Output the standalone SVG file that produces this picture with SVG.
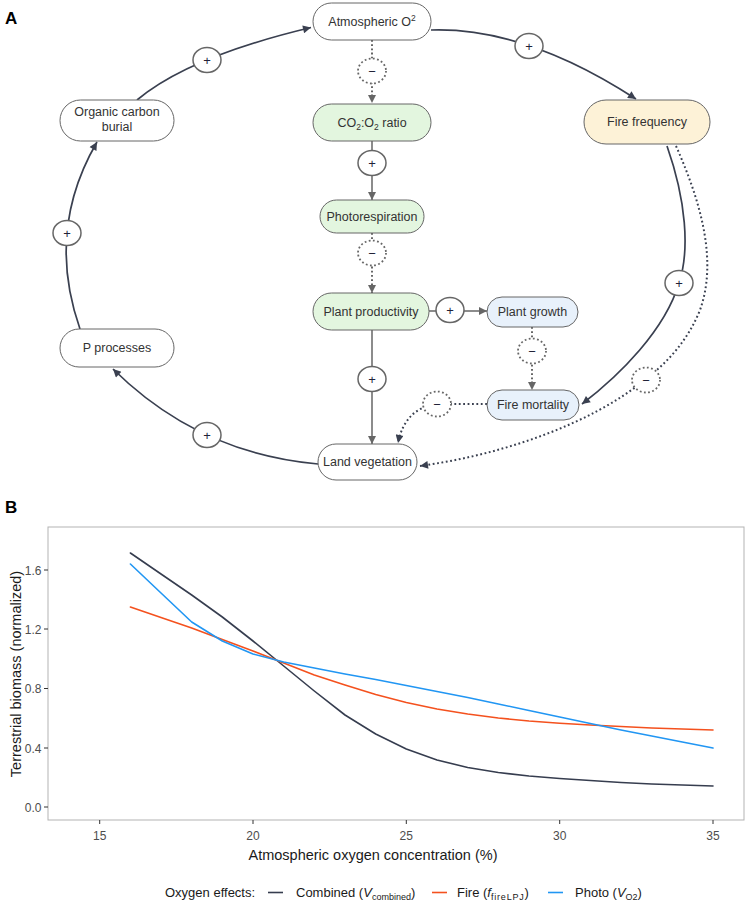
<svg xmlns="http://www.w3.org/2000/svg" width="750" height="909" viewBox="0 0 750 909">
<style>
.bg{fill:#ffffff}
.node{stroke:#666;stroke-width:1}
.white{fill:#ffffff}
.green{fill:#e3f6df}
.blue{fill:#e8f1fb}
.yellow{fill:#fdf2d7}
.lbl{font-family:"Liberation Sans",Arial,sans-serif;font-size:12.5px;fill:#333;text-anchor:middle}
.badge{fill:#ffffff;stroke:#666;stroke-width:1.5}
.badged{fill:#ffffff;stroke:#666;stroke-width:1.8;stroke-dasharray:1.8 2.4}
.sign{font-family:"Liberation Sans",Arial,sans-serif;font-size:13px;fill:#222238;text-anchor:middle}
.arc{fill:none;stroke:#3a4050;stroke-width:1.7}
.arcd{fill:none;stroke:#3a4050;stroke-width:2;stroke-dasharray:1.8 2.6}
.cen{fill:none;stroke:#666;stroke-width:1.5}
.cend{fill:none;stroke:#666;stroke-width:2;stroke-dasharray:1.8 2.4}
.panel{font-family:"Liberation Sans",Arial,sans-serif;font-size:17px;font-weight:bold;fill:#000}
.tick{stroke:#333;stroke-width:1}
.tl{font-family:"Liberation Sans",Arial,sans-serif;font-size:12px;fill:#4d4d4d}
.at{font-family:"Liberation Sans",Arial,sans-serif;font-size:14.5px;fill:#1a1a1a}
.leg{font-family:"Liberation Sans",Arial,sans-serif;font-size:13px;fill:#1a1a1a}
.curve{fill:none;stroke-width:1.6;stroke-linejoin:round;stroke-linecap:round}
</style>
<defs>
<marker id="ahd" viewBox="0 0 10 10" refX="10" refY="5" markerWidth="11" markerHeight="8" markerUnits="userSpaceOnUse" orient="auto"><path d="M0,0 L10,5 L0,10 z" fill="#3a4050"/></marker>
<marker id="ahg" viewBox="0 0 10 10" refX="10" refY="5" markerWidth="11" markerHeight="8" markerUnits="userSpaceOnUse" orient="auto"><path d="M0,0 L10,5 L0,10 z" fill="#666"/></marker>
</defs>
<rect class="bg" x="0" y="0" width="750" height="909"/>
<text class="panel" x="5" y="24">A</text>
<text class="panel" x="5" y="513">B</text>

<g id="connectors">
<path class="arc" d="M137,100 Q189,56.5 311,27.5" marker-end="url(#ahd)"/>
<path class="arc" d="M431,30 Q525.5,27 636,99" marker-end="url(#ahd)"/>
<path class="arc" d="M667,146 C686,200 690,250 679,283 C665,330 620,375 582,404" marker-end="url(#ahd)"/>
<path class="arcd" d="M676,146 C700,200 718,260 700,310 C688,340 668,362 646,379 C590,425 500,455 420,466" marker-end="url(#ahd)"/>
<path class="arc" d="M318,464 Q198.5,453.5 113,369" marker-end="url(#ahd)"/>
<path class="arc" d="M80,329 Q45.5,230.5 97,142" marker-end="url(#ahd)"/>
<path class="cend" d="M372,40 V103" marker-end="url(#ahg)"/>
<path class="cen" d="M372,141 V200" marker-end="url(#ahg)"/>
<path class="cend" d="M372,233 V293" marker-end="url(#ahg)"/>
<path class="cen" d="M372,330 V444" marker-end="url(#ahg)"/>
<path class="cen" d="M429,311 H487" marker-end="url(#ahg)"/>
<path class="cend" d="M532,327 V390" marker-end="url(#ahg)"/>
<path class="arcd" d="M487,404 L437,404 Q405,408 398,443" marker-end="url(#ahd)"/>
</g>

<g id="badges">
<g id="b1"><ellipse class="badge" cx="207" cy="60" rx="14" ry="12.5"/><text class="sign" x="207" y="64.5">+</text></g>
<g id="b2"><ellipse class="badge" cx="529" cy="46" rx="14" ry="12.5"/><text class="sign" x="529" y="50.5">+</text></g>
<g id="b3"><ellipse class="badged" cx="372" cy="71" rx="14" ry="12.5"/><text class="sign" x="372" y="75.5">−</text></g>
<g id="b4"><ellipse class="badge" cx="372" cy="163" rx="14" ry="12.5"/><text class="sign" x="372" y="167.5">+</text></g>
<g id="b5"><ellipse class="badged" cx="372" cy="253" rx="14" ry="12.5"/><text class="sign" x="372" y="257.5">−</text></g>
<g id="b6"><ellipse class="badge" cx="450" cy="310" rx="14" ry="12.5"/><text class="sign" x="450" y="314.5">+</text></g>
<g id="b7"><ellipse class="badge" cx="372" cy="379" rx="14" ry="12.5"/><text class="sign" x="372" y="383.5">+</text></g>
<g id="b8"><ellipse class="badged" cx="532" cy="351" rx="14" ry="12.5"/><text class="sign" x="532" y="355.5">−</text></g>
<g id="b9"><ellipse class="badged" cx="437" cy="404" rx="14" ry="12.5"/><text class="sign" x="437" y="408.5">−</text></g>
<g id="b10"><ellipse class="badge" cx="679" cy="283" rx="14" ry="12.5"/><text class="sign" x="679" y="287.5">+</text></g>
<g id="b11"><ellipse class="badged" cx="646" cy="380" rx="14" ry="12.5"/><text class="sign" x="646" y="384.5">−</text></g>
<g id="b12"><ellipse class="badge" cx="207" cy="435" rx="14" ry="12.5"/><text class="sign" x="207" y="439.5">+</text></g>
<g id="b13"><ellipse class="badge" cx="67" cy="233" rx="14" ry="12.5"/><text class="sign" x="67" y="237.5">+</text></g>
</g>

<g id="n-atmo2"><rect class="node white" x="313" y="3" width="118" height="37" rx="18.5"/><text class="lbl" x="372" y="26">Atmospheric O<tspan dy="-5" font-size="8.5">2</tspan></text></g>
<g id="n-co2"><rect class="node green" x="313" y="104" width="118" height="37" rx="18.5"/><text class="lbl" x="372" y="126.5">CO<tspan dy="3" font-size="8.5">2</tspan><tspan dy="-3">:O</tspan><tspan dy="3" font-size="8.5">2</tspan><tspan dy="-3"> ratio</tspan></text></g>
<g id="n-photoresp"><rect class="node green" x="320" y="200" width="104" height="33" rx="16.5"/><text class="lbl" x="372" y="220.5">Photorespiration</text></g>
<g id="n-prod"><rect class="node green" x="313" y="293" width="116" height="37" rx="18.5"/><text class="lbl" x="371" y="315.5">Plant productivity</text></g>
<g id="n-landveg"><rect class="node white" x="318" y="444" width="99" height="36" rx="18"/><text class="lbl" x="367.5" y="466">Land vegetation</text></g>
<g id="n-growth"><rect class="node blue" x="487" y="297" width="91" height="30" rx="15"/><text class="lbl" x="532.5" y="316">Plant growth</text></g>
<g id="n-mortality"><rect class="node blue" x="487" y="390" width="92" height="30" rx="15"/><text class="lbl" x="533" y="409">Fire mortality</text></g>
<g id="n-firefreq"><rect class="node yellow" x="584" y="100" width="126" height="44" rx="22"/><text class="lbl" x="647" y="126">Fire frequency</text></g>
<g id="n-ocb"><rect class="node white" x="60" y="100" width="114" height="41" rx="20.5"/><text class="lbl" x="117" y="116">Organic carbon</text><text class="lbl" x="117" y="131">burial</text></g>
<g id="n-p"><rect class="node white" x="60" y="329" width="114" height="38" rx="19"/><text class="lbl" x="117" y="352">P processes</text></g>

<g id="chart">
<rect x="48" y="527" width="696" height="293" fill="#ffffff" stroke="#b3b3b3" stroke-width="1"/>
<g class="tick">
<line x1="44" y1="570" x2="48" y2="570"/>
<line x1="44" y1="629" x2="48" y2="629"/>
<line x1="44" y1="688.5" x2="48" y2="688.5"/>
<line x1="44" y1="748" x2="48" y2="748"/>
<line x1="44" y1="807" x2="48" y2="807"/>
<line x1="99.7" y1="820" x2="99.7" y2="824"/>
<line x1="253" y1="820" x2="253" y2="824"/>
<line x1="406.3" y1="820" x2="406.3" y2="824"/>
<line x1="559.7" y1="820" x2="559.7" y2="824"/>
<line x1="713" y1="820" x2="713" y2="824"/>
</g>
<g class="tl" text-anchor="end">
<text x="41.5" y="574.5">1.6</text>
<text x="41.5" y="633.5">1.2</text>
<text x="41.5" y="693">0.8</text>
<text x="41.5" y="752.5">0.4</text>
<text x="41.5" y="811.5">0.0</text>
</g>
<g class="tl" text-anchor="middle" font-size="13px">
<text x="99.7" y="840">15</text>
<text x="253" y="840">20</text>
<text x="406.3" y="840">25</text>
<text x="559.7" y="840">30</text>
<text x="713" y="840">35</text>
</g>
<text class="at" x="373" y="860" text-anchor="middle">Atmospheric oxygen concentration (%)</text>
<text class="at" transform="translate(21,674) rotate(-90)" text-anchor="middle" font-size="15px">Terrestrial biomass (normalized)</text>
<polyline class="curve" stroke="#363d4f" points="130.4,553 161,574 191.7,595 222.3,617 253,641 283.7,666 314.3,691 345,715 375.7,734 406.3,749 437,760 467.7,767.5 498.3,772.5 529,776 559.7,778.5 590.3,780.5 621,782.5 651.7,784 682.3,785 713,786"/>
<polyline class="curve" stroke="#f4511e" points="130.4,607 161,617.5 191.7,628 222.3,639.5 253,651 283.7,663 314.3,675 345,685 375.7,694.5 406.3,702.5 437,709 467.7,714 498.3,718 529,721 559.7,723.3 590.3,725 621,726.5 651.7,728 682.3,729 713,730"/>
<polyline class="curve" stroke="#2196f3" points="130.4,564 161,593 191.7,622 222.3,641 253,654 283.7,662 314.3,668 345,674 375.7,679.5 406.3,685.5 437,691.5 467.7,697.5 498.3,704 529,710.5 559.7,717 590.3,723.5 621,730 651.7,736 682.3,742 713,748"/>
</g>

<g id="legend">
<text class="leg" x="165" y="897">Oxygen effects:</text>
<line x1="268" y1="892.5" x2="283" y2="892.5" stroke="#363d4f" stroke-width="1.6"/>
<text class="leg" x="296" y="897">Combined (<tspan font-style="italic">V</tspan><tspan dy="3" font-size="9">combined</tspan><tspan dy="-3">)</tspan></text>
<line x1="432" y1="892.5" x2="447" y2="892.5" stroke="#f4511e" stroke-width="1.6"/>
<text class="leg" x="457" y="897">Fire (<tspan font-style="italic">f</tspan><tspan dy="3" font-size="9" letter-spacing="0.8">fireLPJ</tspan><tspan dy="-3">)</tspan></text>
<line x1="548" y1="892.5" x2="563" y2="892.5" stroke="#2196f3" stroke-width="1.6"/>
<text class="leg" x="575" y="897">Photo (<tspan font-style="italic">V</tspan><tspan dy="3" font-size="9">O2</tspan><tspan dy="-3">)</tspan></text>
</g>
</svg>
